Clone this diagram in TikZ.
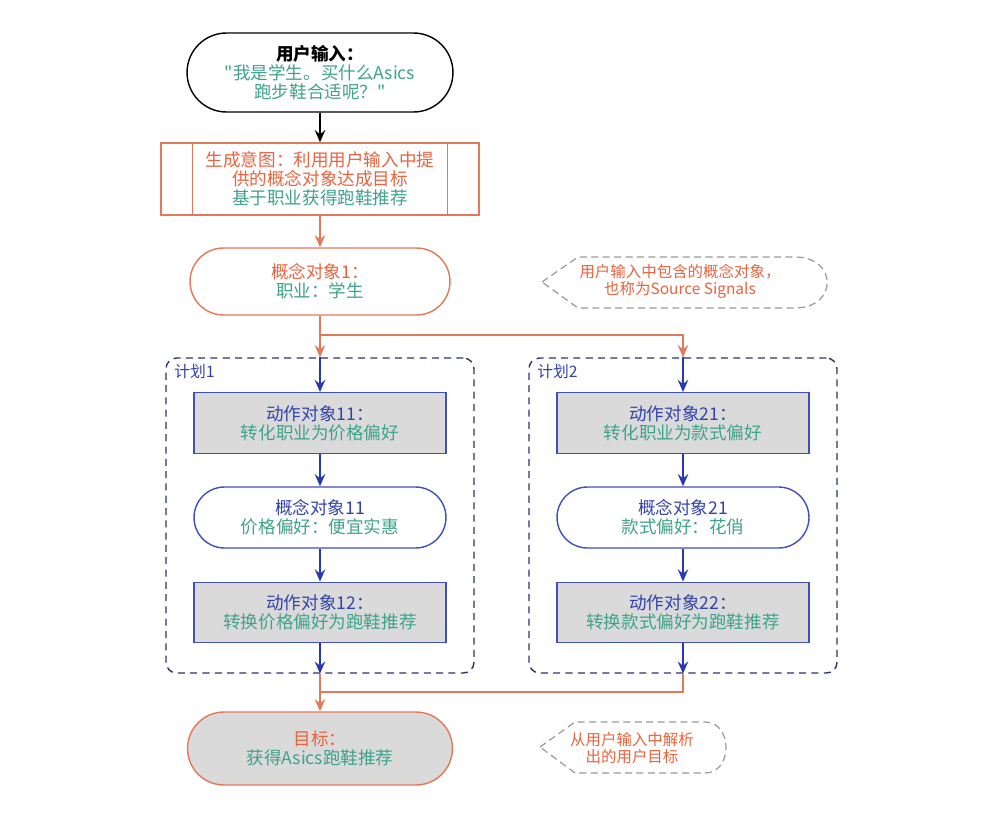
\documentclass[tikz,border=0pt]{standalone}
\usepackage{fontspec}
\setmainfont{Noto Sans CJK SC}[Ligatures=TeXOff]
\usepackage{xcolor}
\usetikzlibrary{arrows.meta,shapes.misc,calc,positioning}
\definecolor{orgline}{HTML}{E4785A}
\definecolor{orgtxt}{HTML}{E8633E}
\definecolor{tealtxt}{HTML}{3FA28A}
\definecolor{blutxt}{HTML}{3343AA}
\definecolor{bluline}{HTML}{2638B8}
\definecolor{boxline}{HTML}{4050B8}
\definecolor{planline}{HTML}{2C3272}
\definecolor{boxfill}{HTML}{DADADA}
\definecolor{noteline}{HTML}{9A9A9A}

\begin{document}
\begin{tikzpicture}[x=0.02cm,y=-0.02cm]
		\tikzstyle{every node}=[font=\fontsize{10pt}{10.8pt}\selectfont, align=center, inner sep=0pt]
		\tikzstyle{term}=[rounded rectangle, draw, line width=0.8pt, minimum width=5.3cm, minimum height=1.46cm]
		\tikzstyle{actbox}=[rectangle, draw=boxline, fill=boxfill, line width=0.8pt, minimum width=5.04cm, minimum height=1.21cm]
		\tikzstyle{conbox}=[rounded rectangle, draw=boxline, fill=white, line width=0.8pt, minimum width=5.04cm, minimum height=1.22cm]
		\tikzstyle{plan}=[rectangle, draw=planline, dashed, dash pattern=on 4pt off 3pt, rounded corners=6pt, line width=0.8pt, minimum width=6.16cm, minimum height=6.3cm]
		\tikzstyle{planlbl}=[font=\fontsize{9pt}{10pt}\selectfont, text=blutxt, anchor=west]
		\tikzstyle{note}=[font=\fontsize{8.8pt}{9.8pt}\selectfont, text=orgtxt]
		\tikzstyle{blk}=[line width=0.8pt, black, -{Stealth[length=7pt, width=6pt, inset=2.5pt]}]
		\tikzstyle{org}=[line width=0.8pt, orgline, -{Stealth[length=7pt, width=6pt, inset=2.5pt]}]
		\tikzstyle{blu}=[line width=0.8pt, bluline, -{Stealth[length=7pt, width=6pt, inset=2.5pt]}]
		\useasboundingbox (0,0) rectangle (991,812);
		% main column
		\node [term, minimum width=5.32cm, minimum height=1.58cm] (start) at (320,72.5) {{\bfseries 用户输入：}\\\color{tealtxt}"我是学生。买什么Asics\\\color{tealtxt}跑步鞋合适呢？"};
		\node [rectangle, draw=orgline, line width=0.8pt, minimum width=6.36cm, minimum height=1.44cm] (proc) at (320,179) {\color{orgtxt}生成意图：利用用户输入中提\\\color{orgtxt}供的概念对象达成目标\\\color{tealtxt}基于职业获得跑鞋推荐};
		\draw [line width=0.8pt, orgline] ($(proc.north west)+(32,0)$) -- ($(proc.south west)+(32,0)$);
		\draw [line width=0.8pt, orgline] ($(proc.north east)+(-32,0)$) -- ($(proc.south east)+(-32,0)$);
		\node [term, draw=orgline, minimum width=5.2cm, minimum height=1.34cm] (c1) at (320,281.5) {\color{orgtxt}概念对象1：\\\color{tealtxt}职业：学生};
		% plans
		\node [plan] (p1) at (320,515.5) {};
		\node [plan] (p2) at (683,515.5) {};
		\node [planlbl] (lbl1) at (174,371) {计划1};
		\node [planlbl] (lbl2) at (537,371) {计划2};
		\node [actbox] (a11) at (320,423) {\color{blutxt}动作对象11：\\\color{tealtxt}转化职业为价格偏好};
		\node [conbox] (k11) at (320,517.5) {\color{blutxt}概念对象11\\\color{tealtxt}价格偏好：便宜实惠};
		\node [actbox] (a12) at (320,612.5) {\color{blutxt}动作对象12：\\\color{tealtxt}转换价格偏好为跑鞋推荐};
		\node [actbox] (a21) at (683,423) {\color{blutxt}动作对象21：\\\color{tealtxt}转化职业为款式偏好};
		\node [conbox] (k21) at (683,517.5) {\color{blutxt}概念对象21\\\color{tealtxt}款式偏好：花俏};
		\node [actbox] (a22) at (683,612.5) {\color{blutxt}动作对象22：\\\color{tealtxt}转换款式偏好为跑鞋推荐};
		\node [term, draw=orgline, fill=boxfill] (goal) at (320,748.5) {\color{orgtxt}目标：\\\color{tealtxt}获得Asics跑鞋推荐};
		% connectors
		\coordinate (split) at (320,335);
		\coordinate (merge) at (320,692);
		\draw [blk] (start.south) -- (proc.north);
		\draw [org] (proc.south) -- (c1.north);
		\draw [line width=0.8pt, orgline] (c1.south) -- (split);
		\draw [org] (split) -- (p1.north);
		\draw [org] (split) -| (p2.north);
		\draw [blu] (p1.north) -- (a11.north);
		\draw [blu] (a11.south) -- (k11.north);
		\draw [blu] (k11.south) -- (a12.north);
		\draw [blu] (a12.south) -- (p1.south);
		\draw [blu] (p2.north) -- (a21.north);
		\draw [blu] (a21.south) -- (k21.north);
		\draw [blu] (k21.south) -- (a22.north);
		\draw [blu] (a22.south) -- (p2.south);
		\draw [org] (p1.south) -- (goal.north);
		\draw [line width=0.8pt, orgline] (p2.south) |- (merge);
		% notes
		\draw [line width=0.7pt, noteline, dashed, dash pattern=on 4pt off 2.5pt] (542,282) -- (578,257) -- (795,257) .. controls (838,257) and (838,308) .. (795,308) -- (578,308) -- cycle;
		\node [note] (n1) at (680,281.5) {用户输入中包含的概念对象，\\也称为Source Signals};
		\draw [line width=0.7pt, noteline, dashed, dash pattern=on 4pt off 2.5pt] (540,747) -- (575,722) -- (705,722) .. controls (733,722) and (733,773) .. (705,773) -- (575,773) -- cycle;
		\node [note] (n2) at (632,748) {从用户输入中解析\\出的用户目标};
	\end{tikzpicture}
\end{document}
